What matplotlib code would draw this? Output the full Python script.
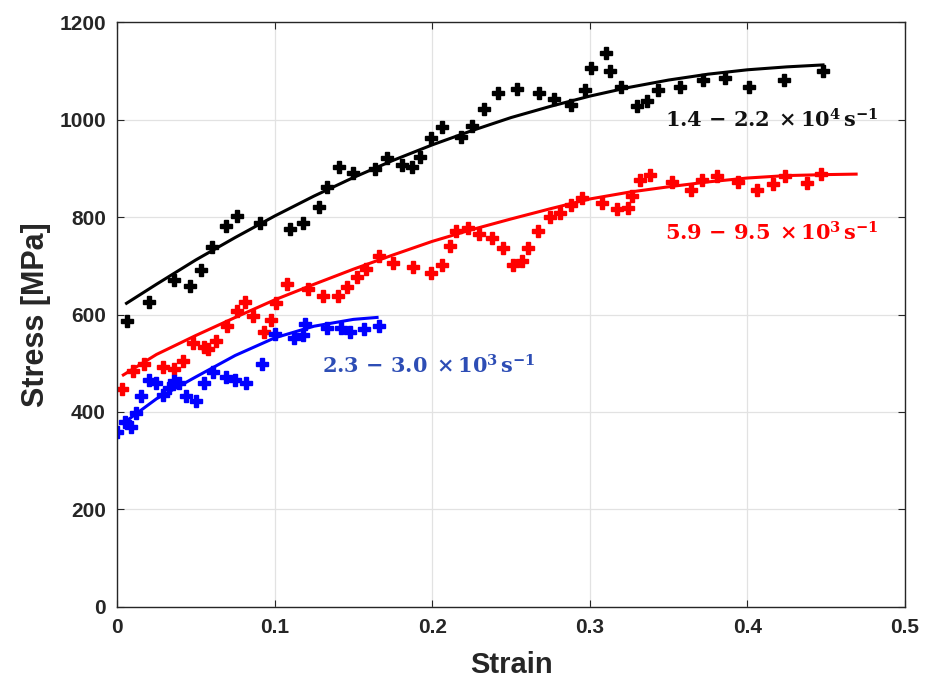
import numpy as np
import matplotlib.pyplot as plt

plt.rcParams['mathtext.fontset'] = 'dejavuserif'

# data
# 1.4-2.2 x10^4 /s (black)
strain_hi = [0.006, 0.020, 0.036, 0.046, 0.053, 0.060, 0.069, 0.076, 0.091, 0.110,
             0.118, 0.128, 0.133, 0.141, 0.150, 0.164, 0.171, 0.181, 0.187, 0.192,
             0.199, 0.206, 0.218, 0.225, 0.233, 0.242, 0.254, 0.268, 0.277, 0.288,
             0.297, 0.301, 0.310, 0.313, 0.320, 0.330, 0.336, 0.343, 0.357, 0.372,
             0.386, 0.401, 0.423, 0.448]
stress_hi = [587, 626, 671, 658, 691, 738, 781, 802, 788, 775,
             788, 821, 862, 902, 890, 898, 921, 907, 902, 923,
             962, 985, 964, 987, 1022, 1054, 1062, 1054, 1042, 1030,
             1060, 1106, 1136, 1099, 1067, 1028, 1038, 1060, 1067, 1081,
             1085, 1067, 1081, 1099]
fit_strain_hi = [0.006, 0.025, 0.05, 0.075, 0.1, 0.125, 0.15, 0.175, 0.2, 0.225,
                 0.25, 0.275, 0.3, 0.325, 0.35, 0.375, 0.4, 0.425, 0.448]
fit_stress_hi = [623, 662, 712, 758, 802, 843, 881, 916, 948, 977,
                 1004, 1027, 1048, 1066, 1081, 1093, 1102, 1108, 1112]

# 5.9-9.5 x10^3 /s (red)
strain_mid = [0.003, 0.010, 0.017, 0.029, 0.036, 0.042, 0.048, 0.055, 0.058, 0.063,
              0.070, 0.076, 0.081, 0.086, 0.093, 0.098, 0.101, 0.108, 0.121, 0.131,
              0.140, 0.146, 0.152, 0.158, 0.166, 0.175, 0.188, 0.199, 0.206, 0.211,
              0.215, 0.223, 0.230, 0.238, 0.245, 0.251, 0.257, 0.261, 0.267, 0.275,
              0.281, 0.288, 0.295, 0.308, 0.317, 0.324, 0.327, 0.332, 0.338, 0.352,
              0.364, 0.371, 0.381, 0.394, 0.406, 0.416, 0.424, 0.438, 0.447]
stress_mid = [447, 484, 498, 492, 488, 505, 542, 533, 529, 546,
              576, 607, 626, 597, 564, 589, 624, 663, 652, 638,
              638, 656, 677, 693, 720, 706, 697, 685, 702, 741,
              771, 777, 765, 757, 736, 702, 710, 736, 771, 800,
              808, 825, 839, 829, 816, 818, 843, 876, 886, 872,
              855, 876, 884, 872, 855, 868, 884, 870, 888]
fit_strain_mid = [0.004, 0.025, 0.05, 0.075, 0.1, 0.125, 0.15, 0.175, 0.2, 0.225,
                  0.25, 0.275, 0.3, 0.325, 0.35, 0.375, 0.4, 0.425, 0.45, 0.469]
fit_stress_mid = [476, 518, 557, 594, 630, 662, 693, 722, 750, 774,
                  796, 817, 837, 851, 862, 872, 880, 885, 887, 888]

# 2.3-3.0 x10^3 /s (blue)
strain_lo = [0.000, 0.005, 0.009, 0.012, 0.015, 0.020, 0.025, 0.029, 0.033, 0.036,
             0.039, 0.044, 0.050, 0.055, 0.061, 0.069, 0.075, 0.082, 0.092, 0.100,
             0.112, 0.118, 0.119, 0.133, 0.142, 0.148, 0.157, 0.166]
stress_lo = [359, 380, 370, 397, 433, 466, 460, 435, 449, 464,
             460, 433, 423, 460, 482, 472, 466, 460, 498, 560,
             552, 558, 580, 572, 572, 564, 570, 577]
fit_strain_lo = [0.004, 0.025, 0.05, 0.075, 0.1, 0.125, 0.15, 0.165]
fit_stress_lo = [377, 427, 472, 516, 552, 576, 590, 594]

xticks = [0, 0.1, 0.2, 0.3, 0.4, 0.5]
xtick_labels = ['0', '0.1', '0.2', '0.3', '0.4', '0.5']
yticks = [0, 200, 400, 600, 800, 1000, 1200]

fig = plt.figure(figsize=(9.26, 6.84), dpi=100)
ax = fig.add_axes([0.1264, 0.1126, 0.8509, 0.8552])

ax.plot(strain_hi, stress_hi, 'P', color='black', ms=8.5, mec='black')
ax.plot(fit_strain_hi, fit_stress_hi, '-', color='black', lw=2.2)
ax.plot(strain_mid, stress_mid, 'P', color='red', ms=8.5, mec='red')
ax.plot(fit_strain_mid, fit_stress_mid, '-', color='red', lw=2.2)
ax.plot(strain_lo, stress_lo, 'P', color='blue', ms=8.5, mec='blue')
ax.plot(fit_strain_lo, fit_stress_lo, '-', color='blue', lw=2.2)

lbl = dict(fontsize=15, va='center', ha='left')
ax.text(0.348, 1000, r'$\mathbf{1.4\,-\,2.2\;\times 10^4\,s^{-1}}$', color='#111111', **lbl)
ax.text(0.348, 767, r'$\mathbf{5.9\,-\,9.5\;\times 10^3\,s^{-1}}$', color='red', **lbl)
ax.text(0.130, 494, r'$\mathbf{2.3\,-\,3.0\;\times 10^3\,s^{-1}}$', color='#2d4db5', **lbl)

ax.set_xlim(0, 0.5)
ax.set_ylim(0, 1200)
ax.set_xticks(xticks)
ax.set_xticklabels(xtick_labels)
ax.set_yticks(yticks)
ax.grid(True, color='#e2e2e2', lw=0.9)
ax.set_axisbelow(True)
ax.tick_params(direction='in', length=5, top=True, right=True, color='#262626',
               labelsize=15, pad=8)
for lab in ax.get_xticklabels() + ax.get_yticklabels():
    lab.set_fontweight('bold')
    lab.set_family('Liberation Sans')
    lab.set_color('#262626')
for s in ax.spines.values():
    s.set_color('#262626')
    s.set_linewidth(1.0)

ax.set_xlabel('Strain', fontsize=21, fontweight='bold', family='Liberation Sans',
              color='#262626', labelpad=10)
ax.set_ylabel('Stress [MPa]', fontsize=22, fontweight='bold', family='Liberation Sans',
              color='#262626', labelpad=6)

plt.savefig('out.png', dpi=100)
